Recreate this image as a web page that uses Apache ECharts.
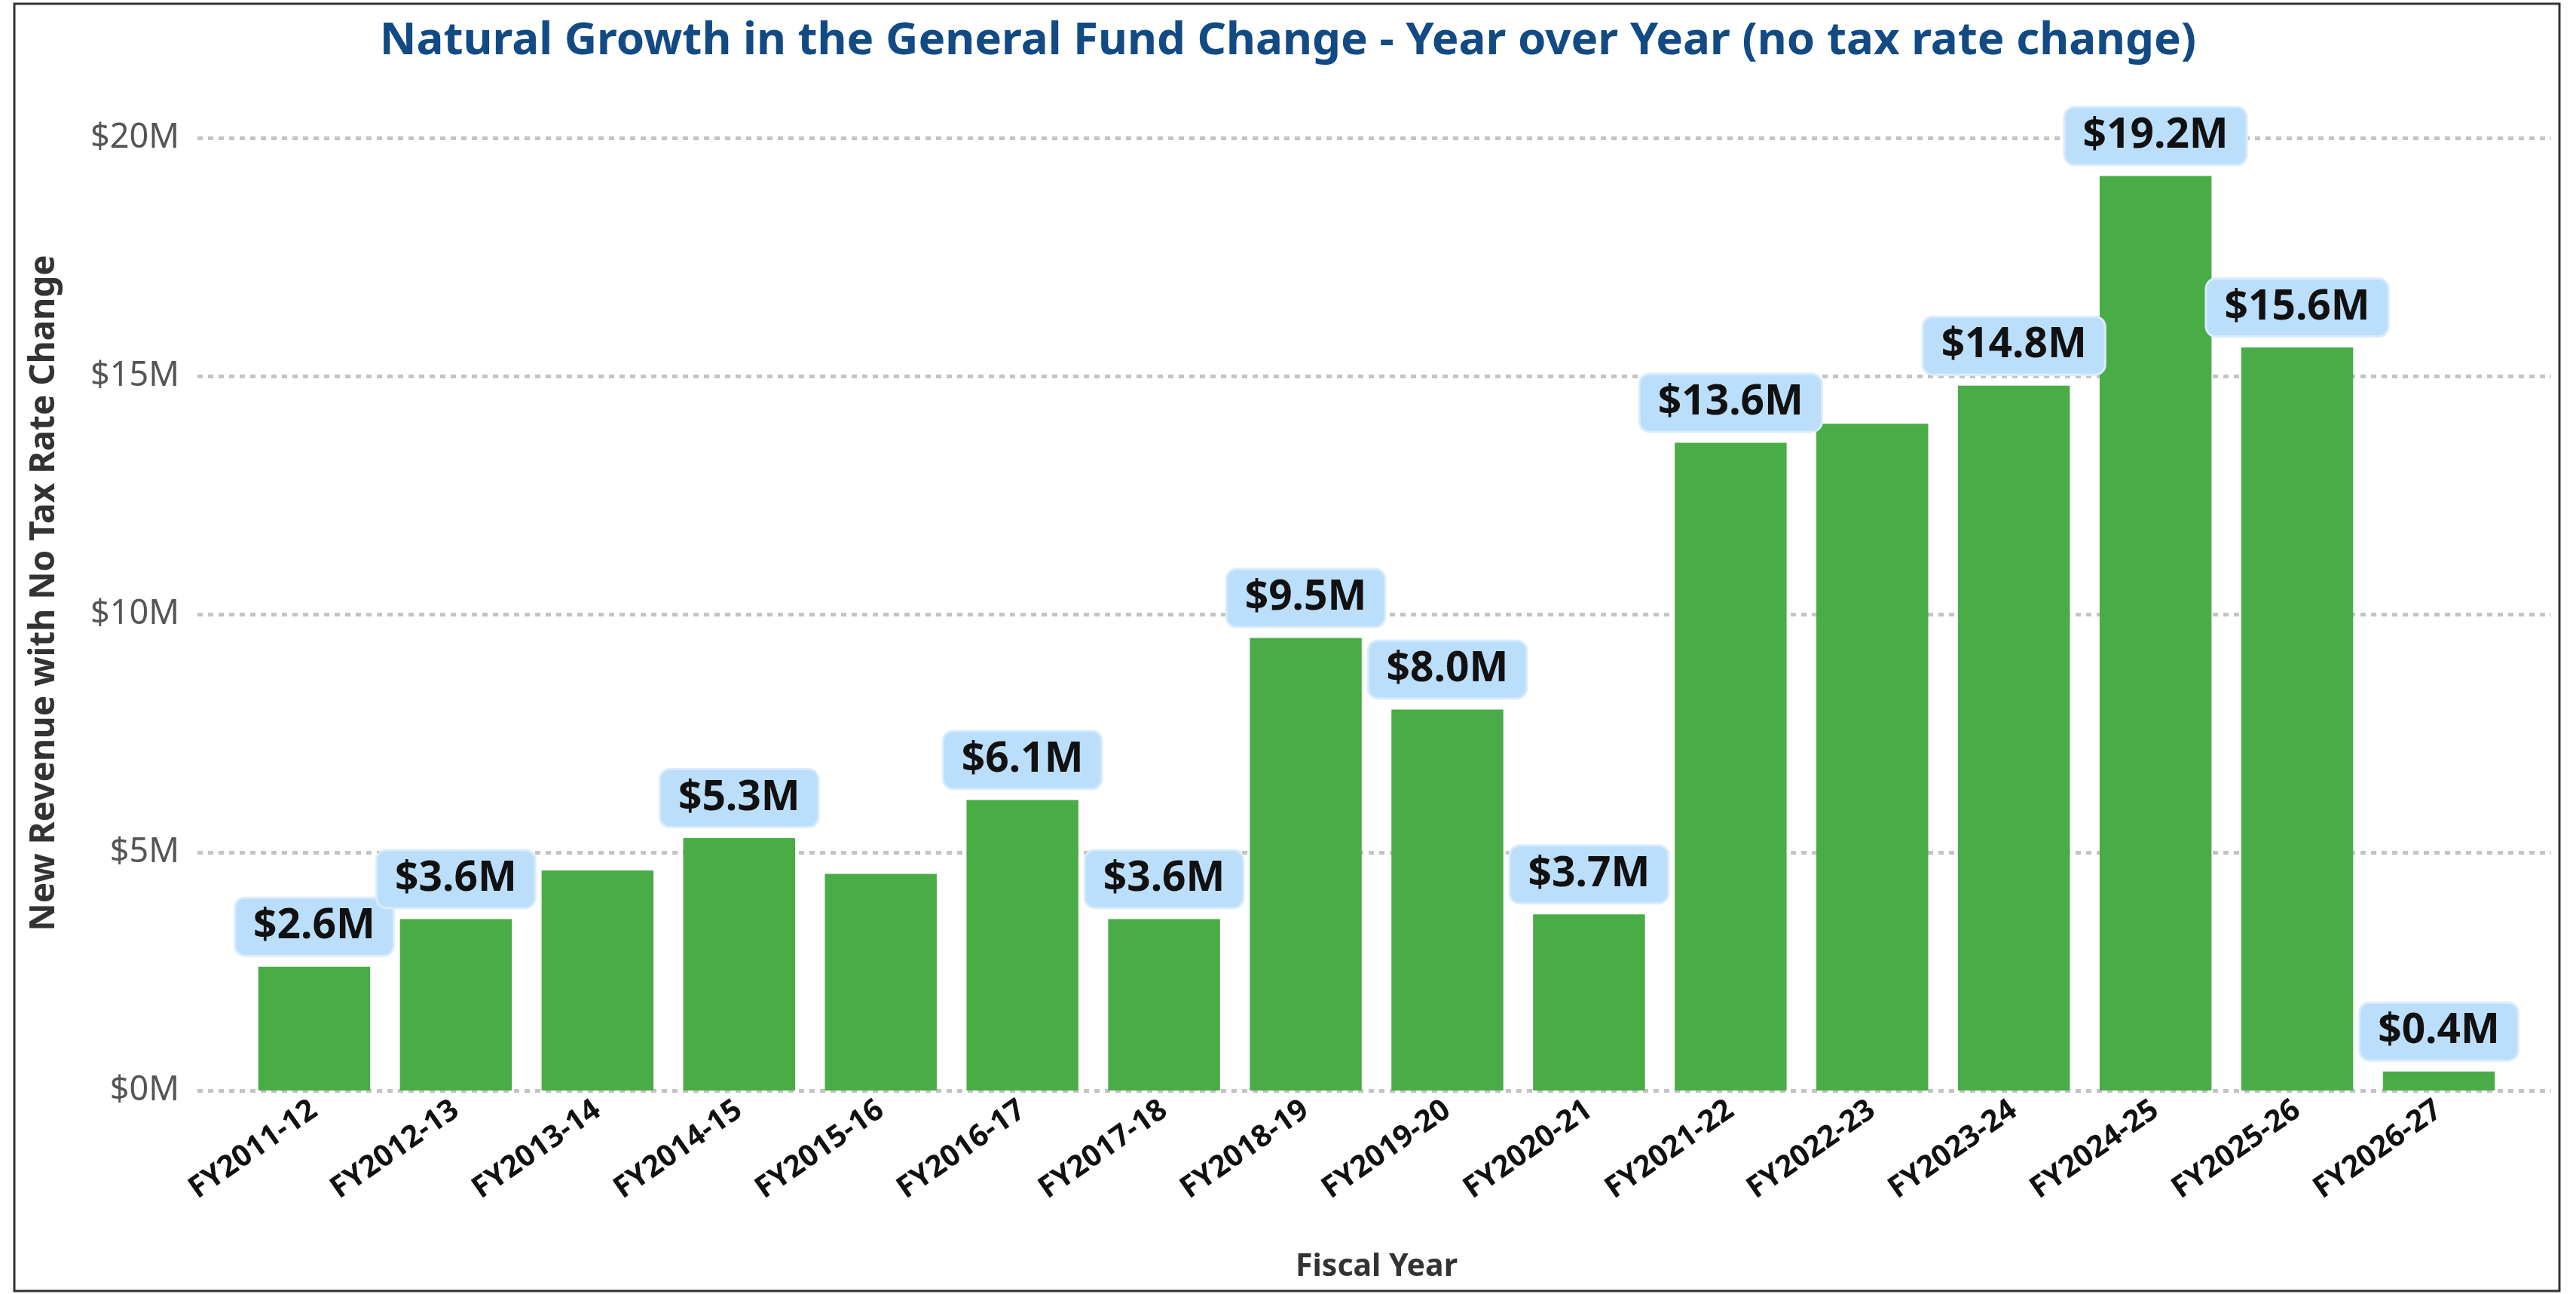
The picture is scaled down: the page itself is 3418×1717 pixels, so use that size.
<!DOCTYPE html>
<html>
<head>
<meta charset="utf-8">
<title>Natural Growth in the General Fund Change</title>
<script src="https://cdn.jsdelivr.net/npm/echarts@6/dist/echarts.min.js"></script>
<style>
  html, body { margin: 0; padding: 0; background: #fff; }
  #chart { width: 3418px; height: 1717px; }
</style>
</head>
<body>
<div id="chart"></div>
<script>
// fiscal years on the x axis
const years = ['FY2011-12', 'FY2012-13', 'FY2013-14', 'FY2014-15', 'FY2015-16', 'FY2016-17',
  'FY2017-18', 'FY2018-19', 'FY2019-20', 'FY2020-21', 'FY2021-22', 'FY2022-23',
  'FY2023-24', 'FY2024-25', 'FY2025-26', 'FY2026-27'];
// new revenue, $ millions
const revenue = [2.6, 3.6, 4.62, 5.3, 4.55, 6.1, 3.6, 9.5, 8.0, 3.7, 13.6, 14.0, 14.8, 19.2, 15.6, 0.4];
// which bars carry a value label in the original
const labelShown = [true, true, false, true, false, true, true, true, true, true, true, false, true, true, true, true];
// y ticks ($M)
const yTicks = [0, 5, 10, 15, 20];

const font = 'Noto Sans';
const chart = echarts.init(document.getElementById('chart'));

const barData = revenue.map((v, i) => ({
  value: v,
  label: { show: labelShown[i] }
}));

const option = {
  backgroundColor: '#fff',
  animation: false,
  title: {
    text: 'Natural Growth in the General Fund Change - Year over Year (no tax rate change)',
    left: 'center',
    top: 20,
    textStyle: { fontFamily: font, fontSize: 60, fontWeight: 'bold', color: '#124A84' }
  },
  grid: [
    // wide grid: only the dotted gridlines + y labels
    { left: 262, right: 33, top: 183, bottom: 270 },
    // bars
    { left: 323, right: 88, top: 183, bottom: 270 }
  ],
  xAxis: [
    { gridIndex: 0, type: 'value', min: 0, max: 1, show: false },
    {
      gridIndex: 1,
      type: 'category',
      data: years,
      axisLine: { show: false },
      axisTick: { show: false },
      axisLabel: {
        rotate: 35,
        margin: 22,
        interval: 0,
        fontFamily: font,
        fontSize: 40,
        fontWeight: 'bold',
        color: '#111'
      },
      name: 'Fiscal Year',
      nameLocation: 'middle',
      nameGap: 214,
      nameTextStyle: { fontFamily: font, fontSize: 41, fontWeight: 'bold', color: '#333' }
    }
  ],
  yAxis: [
    {
      gridIndex: 0,
      type: 'value',
      min: yTicks[0],
      max: yTicks[yTicks.length - 1],
      interval: 5,
      axisLine: { show: false },
      axisTick: { show: false },
      axisLabel: {
        margin: 24,
        fontFamily: font,
        fontSize: 45,
        color: '#555',
        formatter: v => '$' + v + 'M'
      },
      splitLine: {
        show: true,
        lineStyle: { color: '#C4C4C4', width: 5, type: [7, 7] }
      }
    },
    {
      gridIndex: 1,
      type: 'value',
      min: yTicks[0],
      max: yTicks[yTicks.length - 1],
      interval: 5,
      show: false,
      splitLine: { show: false }
    }
  ],
  series: [
    {
      type: 'bar',
      xAxisIndex: 1,
      yAxisIndex: 1,
      data: barData,
      barCategoryGap: '21%',
      itemStyle: { color: '#4AAC47' },
      label: {
        position: 'top',
        distance: 16,
        fontFamily: font,
        fontSize: 55,
        fontWeight: 'bold',
        color: '#111',
        lineHeight: 58,
        backgroundColor: '#BBDEFB',
        borderColor: '#D9ECFD',
        borderWidth: 3,
        borderRadius: 12,
        padding: [8, 23, 8, 23],
        formatter: p => '$' + p.value.toFixed(1) + 'M'
      }
    }
  ],
  graphic: [
    {
      type: 'rect',
      shape: { x: 19, y: 5, width: 3377, height: 1708 },
      style: { fill: 'none', stroke: '#333', lineWidth: 3 },
      silent: true
    },
    {
      type: 'text',
      x: 59,
      y: 787,
      rotation: Math.PI / 2,
      style: {
        text: 'New Revenue with No Tax Rate Change',
        font: 'bold 46px "Noto Sans"',
        fill: '#333',
        textAlign: 'center',
        textVerticalAlign: 'middle'
      }
    }
  ]
};

chart.setOption(option);
</script>
</body>
</html>
